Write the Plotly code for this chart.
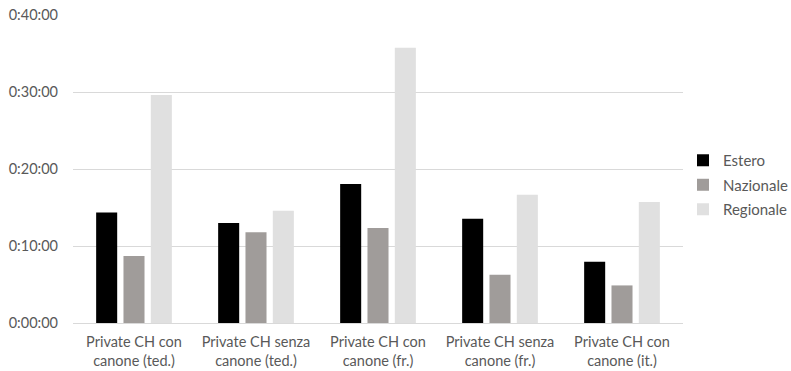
import plotly.graph_objects as go

categories = ["Private CH con<br>canone (ted.)", "Private CH senza<br>canone (ted.)",
              "Private CH con<br>canone (fr.)", "Private CH senza<br>canone (fr.)",
              "Private CH con<br>canone (it.)"]
# values in minutes
estero = [14.36, 13.0, 18.05, 13.55, 7.96]
nazionale = [8.7, 11.77, 12.34, 6.27, 4.88]
regionale = [29.6, 14.58, 35.75, 16.66, 15.71]
series_names = ["Estero", "Nazionale", "Regionale"]
colors = ["#000000", "#A09C9A", "#E0E0E0"]
tick_vals = [0, 10, 20, 30, 40]
tick_text = ["0:00:00", "0:10:00", "0:20:00", "0:30:00", "0:40:00"]

fig = go.Figure()
for name, vals, col in zip(series_names, [estero, nazionale, regionale], colors):
    fig.add_trace(go.Bar(x=categories, y=vals, name=name, marker_color=col,
                         marker_line_width=0, legendgroup=name))

font = "Lato, 'Open Sans', sans-serif"
fig.update_layout(
    width=791, height=371,
    margin=dict(l=73, r=108, t=15, b=48, autoexpand=False),
    paper_bgcolor="white", plot_bgcolor="white",
    barmode="group", bargap=0.328, bargroupgap=0.23,
    font=dict(family=font, size=14.5, color="#595959"),
    legend=dict(x=1.0, y=0.448, yanchor="middle", xanchor="left",
                traceorder="grouped", tracegroupgap=2,
                font=dict(size=15, color="#595959"), itemwidth=30),
    showlegend=True,
)
fig.update_yaxes(range=[0, 40], tickvals=tick_vals, ticktext=tick_text,
                 showgrid=True, gridcolor="#D9D9D9", gridwidth=1,
                 zeroline=False, showline=False, ticks="", ticklabelstandoff=14)
fig.update_xaxes(showline=True, linecolor="#D9D9D9", linewidth=1, ticks="",
                 ticklabelstandoff=6)

fig.write_html("out.html")
